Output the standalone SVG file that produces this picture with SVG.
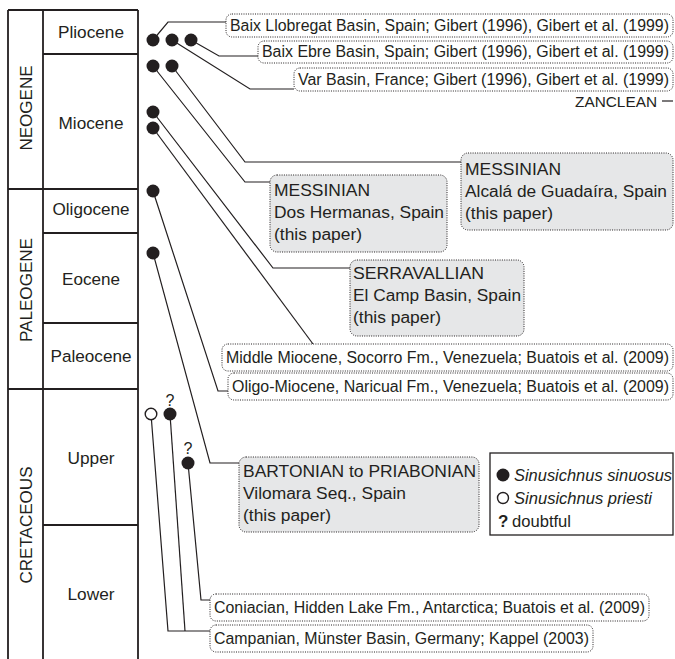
<svg xmlns="http://www.w3.org/2000/svg" width="675" height="659" viewBox="0 0 675 659">
<style>
.frame{stroke:#231f20;stroke-width:1.8;fill:none}
.con path{stroke:#231f20;stroke-width:1.2;fill:none}
.box{fill:#fff;stroke:#231f20;stroke-width:1;stroke-dasharray:1 1.3}
.gbox{fill:#e6e7e8;stroke:#231f20;stroke-width:1;stroke-dasharray:1 1.3}
text{font-family:"Liberation Sans",Arial,sans-serif;fill:#231f20}
.s{font-size:15.8px}
.g{font-size:17.3px}
.c{font-size:17.1px;text-anchor:middle}
.e{font-size:16.9px;text-anchor:middle}
.dot{fill:#231f20}
.odot{fill:#fff;stroke:#231f20;stroke-width:1.4}
.q{font-size:16px;text-anchor:middle}
.lg{font-size:16.4px}
</style>
<rect width="675" height="659" fill="#fff"/>
<g id="timescale">
<path class="frame" d="M8,10H138M8,10V659M43,10V659M138,10V659M43,54H138M8,189H138M43,233H138M43,323H138M8,389H138M43,525H138"/>
<text class="e" textLength="85" lengthAdjust="spacingAndGlyphs" transform="translate(32,108) rotate(-90)">NEOGENE</text>
<text class="e" textLength="104" lengthAdjust="spacingAndGlyphs" transform="translate(32,290) rotate(-90)">PALEOGENE</text>
<text class="e" textLength="117" lengthAdjust="spacingAndGlyphs" transform="translate(32,525) rotate(-90)">CRETACEOUS</text>
<text class="c" x="91" y="38" textLength="66" lengthAdjust="spacingAndGlyphs">Pliocene</text>
<text class="c" x="91" y="129" textLength="65" lengthAdjust="spacingAndGlyphs">Miocene</text>
<text class="c" x="91" y="215" textLength="77" lengthAdjust="spacingAndGlyphs">Oligocene</text>
<text class="c" x="91" y="285" textLength="58" lengthAdjust="spacingAndGlyphs">Eocene</text>
<text class="c" x="91" y="362" textLength="81" lengthAdjust="spacingAndGlyphs">Paleocene</text>
<text class="c" x="91" y="464" textLength="47" lengthAdjust="spacingAndGlyphs">Upper</text>
<text class="c" x="91" y="600" textLength="47" lengthAdjust="spacingAndGlyphs">Lower</text>
</g>
<g id="connectors" class="con">
<path d="M153,40L168,22H226"/>
<path d="M191,40L219,56H258"/>
<path d="M172,40L250,89H294"/>
<path d="M172,66L245,162H461"/>
<path d="M153,66L245,182H270"/>
<path d="M153,112L273,268H350"/>
<path d="M153,128L313,344"/>
<path d="M153,191L218,391H228"/>
<path d="M153,253L210,463H239"/>
<path d="M151,414L168,631H210"/>
<path d="M170,414L185,631"/>
<path d="M188,463L201,600H210"/>
</g>
<g id="occurrences">
<circle class="dot" cx="153" cy="40" r="6.5"/>
<circle class="dot" cx="172" cy="40" r="6.5"/>
<circle class="dot" cx="191" cy="40" r="6.5"/>
<circle class="dot" cx="153" cy="66" r="6.5"/>
<circle class="dot" cx="172" cy="66" r="6.5"/>
<circle class="dot" cx="153" cy="112" r="6.5"/>
<circle class="dot" cx="153" cy="128" r="6.5"/>
<circle class="dot" cx="153" cy="191" r="6.5"/>
<circle class="dot" cx="153" cy="253" r="6.5"/>
<circle class="odot" cx="151" cy="414" r="5.8"/>
<circle class="dot" cx="170" cy="414" r="6.5"/>
<circle class="dot" cx="188" cy="463" r="6.5"/>
<text class="q" x="170" y="406">?</text>
<text class="q" x="188" y="454">?</text>
</g>
<g id="n-llobregat"><rect class="box" x="226" y="14" width="447" height="23" rx="6"/><text class="s" x="230" y="31" textLength="439" lengthAdjust="spacingAndGlyphs">Baix Llobregat Basin, Spain; Gibert (1996), Gibert et al. (1999)</text></g>
<g id="n-ebre"><rect class="box" x="258" y="41" width="415" height="22" rx="6"/><text class="s" x="262" y="57" textLength="407" lengthAdjust="spacingAndGlyphs">Baix Ebre Basin, Spain; Gibert (1996), Gibert et al. (1999)</text></g>
<g id="n-var"><rect class="box" x="294" y="68" width="379" height="23" rx="6"/><text class="s" x="298" y="85" textLength="371" lengthAdjust="spacingAndGlyphs">Var Basin, France; Gibert (1996), Gibert et al. (1999)</text></g>
<g id="zanclean"><text x="657" y="107" style="font-size:15.3px;text-anchor:end" textLength="82" lengthAdjust="spacingAndGlyphs">ZANCLEAN</text><path d="M662,101H673" stroke="#231f20" stroke-width="1.2"/></g>
<g id="n-alcala"><rect class="gbox" x="461" y="153" width="212" height="77" rx="7"/>
<text class="g" x="465" y="175" textLength="96" lengthAdjust="spacingAndGlyphs">MESSINIAN</text>
<text class="g" x="465" y="197" textLength="202" lengthAdjust="spacingAndGlyphs">Alcalá de Guadaíra, Spain</text>
<text class="g" x="465" y="219" textLength="88" lengthAdjust="spacingAndGlyphs">(this paper)</text></g>
<g id="n-doshermanas"><rect class="gbox" x="270" y="175" width="177" height="77" rx="7"/>
<text class="g" x="274" y="196" textLength="96" lengthAdjust="spacingAndGlyphs">MESSINIAN</text>
<text class="g" x="274" y="218" textLength="170" lengthAdjust="spacingAndGlyphs">Dos Hermanas, Spain</text>
<text class="g" x="274" y="240" textLength="88" lengthAdjust="spacingAndGlyphs">(this paper)</text></g>
<g id="n-serravallian"><rect class="gbox" x="350" y="260" width="174" height="76" rx="7"/>
<text class="g" x="353" y="279" textLength="131" lengthAdjust="spacingAndGlyphs">SERRAVALLIAN</text>
<text class="g" x="353" y="301" textLength="168" lengthAdjust="spacingAndGlyphs">El Camp Basin, Spain</text>
<text class="g" x="353" y="323" textLength="88" lengthAdjust="spacingAndGlyphs">(this paper)</text></g>
<g id="n-socorro"><rect class="box" x="222" y="344" width="451" height="27" rx="6"/><text class="s" x="226" y="363" textLength="443" lengthAdjust="spacingAndGlyphs">Middle Miocene, Socorro Fm., Venezuela; Buatois et al. (2009)</text></g>
<g id="n-naricual"><rect class="box" x="228" y="373" width="445" height="27" rx="6"/><text class="s" x="232" y="392" textLength="437" lengthAdjust="spacingAndGlyphs">Oligo-Miocene, Naricual Fm., Venezuela; Buatois et al. (2009)</text></g>
<g id="n-vilomara"><rect class="gbox" x="239" y="457" width="240" height="75" rx="7"/>
<text class="g" x="243" y="477" textLength="233" lengthAdjust="spacingAndGlyphs">BARTONIAN to PRIABONIAN</text>
<text class="g" x="243" y="499" textLength="163" lengthAdjust="spacingAndGlyphs">Vilomara Seq., Spain</text>
<text class="g" x="243" y="521" textLength="88" lengthAdjust="spacingAndGlyphs">(this paper)</text></g>
<g id="legend"><rect x="490" y="453" width="183" height="82" fill="#fff" stroke="#231f20" stroke-width="1.3"/>
<circle class="dot" cx="503" cy="475" r="6.5"/>
<text class="lg" x="514" y="481" style="font-style:italic" textLength="158" lengthAdjust="spacingAndGlyphs">Sinusichnus sinuosus</text>
<circle class="odot" cx="503" cy="498" r="5.5"/>
<text class="lg" x="514" y="504" style="font-style:italic" textLength="138" lengthAdjust="spacingAndGlyphs">Sinusichnus priesti</text>
<text x="498" y="527" style="font-size:17px;font-weight:bold">?</text>
<text class="lg" x="512" y="527" textLength="59" lengthAdjust="spacingAndGlyphs">doubtful</text></g>
<g id="n-hiddenlake"><rect class="box" x="210" y="594" width="439" height="27" rx="6"/><text class="s" x="214" y="613" textLength="431" lengthAdjust="spacingAndGlyphs">Coniacian, Hidden Lake Fm., Antarctica; Buatois et al. (2009)</text></g>
<g id="n-munster"><rect class="box" x="210" y="625" width="383" height="27" rx="6"/><text class="s" x="214" y="644" textLength="375" lengthAdjust="spacingAndGlyphs">Campanian, Münster Basin, Germany; Kappel (2003)</text></g>
</svg>
